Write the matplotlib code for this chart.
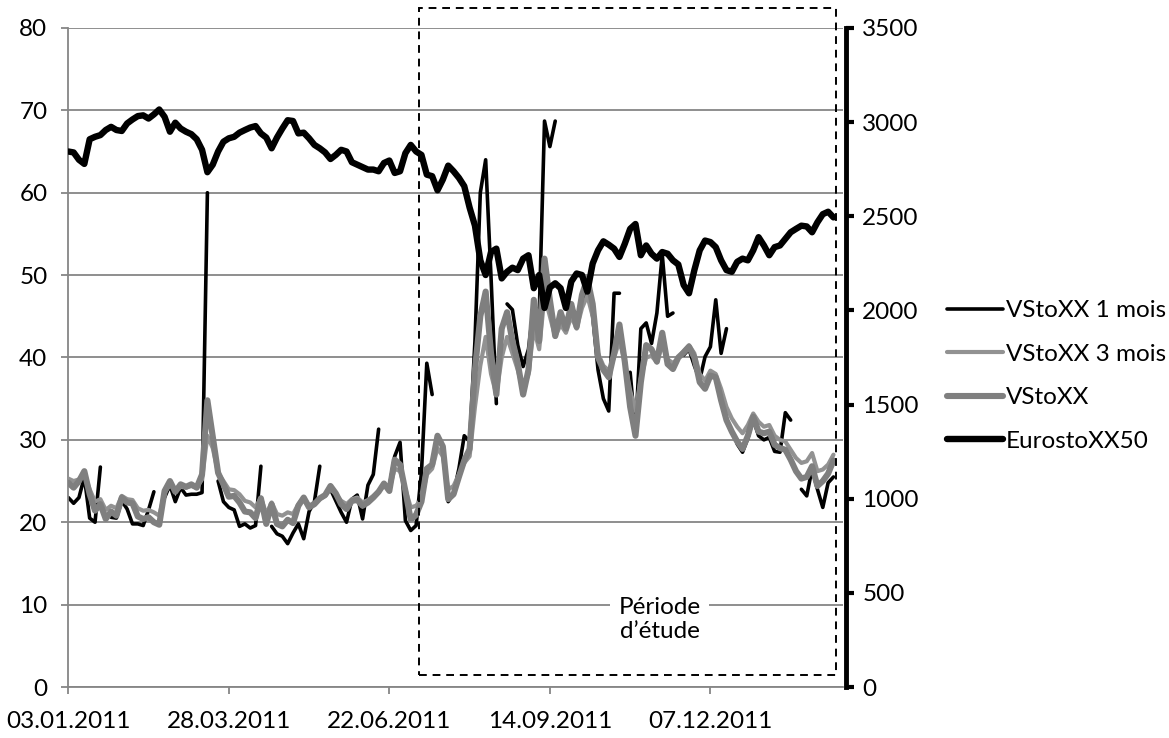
import numpy as np
import matplotlib
matplotlib.use('Agg')
import matplotlib.pyplot as plt
from matplotlib.patches import Rectangle

nan = np.nan

# axe des dates (jours de bourse, un point sur deux)
tick_labels = ['03.01.2011', '28.03.2011', '22.06.2011', '14.09.2011', '07.12.2011']
tick_step = 60          # jours de bourse entre deux étiquettes
n_days = 290            # nombre de jours sur l'axe
sample_step = 2

# EuroStoxx 50 (points, axe de droite)
eurostoxx50 = [
    2844, 2839, 2800, 2778, 2909, 2922, 2931, 2958, 2975, 2958,
    2953, 2993, 3014, 3032, 3036, 3019, 3041, 3067, 3028, 2949,
    2997, 2966, 2949, 2936, 2909, 2853, 2734, 2774, 2844, 2896,
    2914, 2922, 2944, 2958, 2971, 2979, 2940, 2918, 2861, 2918,
    2966, 3010, 3006, 2940, 2944, 2914, 2879, 2861, 2839, 2804,
    2826, 2853, 2844, 2787, 2774, 2761, 2748, 2748, 2739, 2783,
    2796, 2730, 2739, 2835, 2879, 2844, 2826, 2721, 2713, 2638,
    2695, 2769, 2739, 2704, 2660, 2546, 2450, 2266, 2188, 2310,
    2328, 2170, 2205, 2227, 2214, 2275, 2293, 2118, 2188, 2013,
    2122, 2144, 2118, 2013, 2153, 2196, 2188, 2100, 2249, 2319,
    2367, 2349, 2328, 2284, 2354, 2433, 2459, 2293, 2345, 2301,
    2275, 2310, 2301, 2266, 2244, 2135, 2091, 2214, 2319, 2371,
    2363, 2336, 2266, 2214, 2205, 2258, 2275, 2266, 2319, 2389,
    2345, 2293, 2336, 2345, 2380, 2415, 2433, 2450, 2446, 2415,
    2468, 2511, 2524, 2494,
]

# VStoxx (indice)
vstoxx = [
    24.8, 24.2, 25.0, 26.2, 23.4, 21.4, 22.2, 20.4, 21.3, 20.8,
    23.0, 22.4, 22.3, 20.7, 20.4, 20.6, 20.0, 19.7, 23.8, 25.0,
    23.7, 24.6, 24.3, 24.6, 24.2, 25.8, 34.8, 30.4, 26.0, 24.6,
    23.1, 23.2, 22.4, 21.3, 21.2, 20.5, 22.9, 19.8, 22.2, 19.8,
    19.5, 20.3, 19.9, 22.0, 23.0, 21.8, 22.2, 22.9, 23.3, 24.4,
    23.5, 22.2, 21.6, 22.6, 22.7, 22.0, 22.4, 23.0, 23.7, 24.7,
    23.8, 27.6, 27.0, 23.8, 20.3, 20.9, 22.5, 26.5, 27.0, 30.5,
    29.2, 22.8, 23.4, 25.5, 27.5, 28.9, 38.5, 45.0, 48.0, 40.5,
    35.5, 43.5, 45.5, 42.0, 39.3, 35.5, 38.5, 47.0, 42.0, 52.0,
    47.0, 42.6, 45.5, 43.5, 46.5, 43.7, 47.6, 49.6, 46.5, 40.0,
    38.5, 37.6, 40.5, 44.0, 39.5, 34.0, 30.5, 37.0, 41.5, 41.0,
    39.5, 43.0, 39.2, 38.6, 40.0, 40.6, 41.3, 40.0, 37.0, 36.2,
    37.8, 37.6, 34.8, 32.4, 31.0, 29.8, 28.9, 30.5, 32.8, 31.0,
    30.8, 31.0, 29.4, 29.0, 28.8, 27.6, 26.2, 25.3, 25.5, 26.8,
    24.4, 25.0, 25.9, 27.5,
]

# VStoxx future 3 mois
vstoxx_3m = [
    25.3, 25.0, 25.2, 25.8, 24.0, 22.5, 22.8, 21.5, 22.0, 21.7,
    23.2, 22.8, 22.7, 21.7, 21.4, 21.5, 21.2, 20.8, 23.5, 24.6,
    23.8, 24.3, 24.2, 24.4, 24.2, 25.2, 30.5, 29.0, 26.0, 25.0,
    24.0, 23.9, 23.4, 22.6, 22.4, 21.8, 23.0, 21.0, 22.4, 21.0,
    20.8, 21.2, 21.0, 22.2, 23.0, 22.0, 22.4, 22.8, 23.2, 24.0,
    23.4, 22.6, 22.2, 22.8, 23.0, 22.4, 22.7, 23.2, 23.8, 24.4,
    24.0, 26.5, 26.2, 24.0, 21.8, 22.0, 22.8, 25.8, 26.5, 29.0,
    28.0, 24.0, 24.4, 25.8, 27.2, 28.0, 34.0, 39.0, 42.5, 38.0,
    35.5, 40.0, 42.5, 40.5, 38.5, 36.0, 38.0, 43.5, 41.0, 47.5,
    45.0, 42.5, 44.0, 43.0, 45.0, 43.5, 46.0, 47.5, 45.0, 40.5,
    39.0, 38.4, 40.0, 42.0, 39.5, 36.0, 33.5, 37.5, 40.0, 40.2,
    39.4, 41.5, 39.8, 39.3, 40.0, 40.8, 41.5, 40.5, 38.0, 37.2,
    38.4, 38.0, 36.2, 34.0, 32.6, 31.6, 30.8, 31.8, 33.2, 32.2,
    31.6, 31.8, 30.5, 30.0, 29.8, 28.8, 27.8, 27.2, 27.4, 28.4,
    26.2, 26.4, 27.0, 28.2,
]

# VStoxx future 1 mois (trous aux échéances)
vstoxx_1m = [
    23.0, 22.3, 23.0, 25.5, 20.5, 20.0, 26.7, nan, 20.6, 20.5,
    22.6, 21.6, 19.8, 19.8, 19.6, 21.5, 23.7, nan, 23.0, 24.5,
    22.5, 24.2, 23.3, 23.4, 23.4, 23.6, 60.0, nan, 25.0, 22.5,
    21.8, 21.5, 19.5, 19.8, 19.3, 19.6, 26.8, nan, 19.5, 18.6,
    18.3, 17.4, 18.7, 19.8, 18.0, 21.3, 22.5, 26.8, nan, 24.0,
    22.6, 21.2, 20.0, 22.8, 23.3, 20.4, 24.5, 25.8, 31.3, nan,
    24.3, 28.0, 29.7, 20.2, 19.0, 19.6, 26.0, 39.3, 35.5, nan,
    28.5, 22.5, 23.5, 26.5, 30.5, 29.8, 42.0, 60.0, 64.0, 49.8,
    34.4, nan, 46.5, 45.8, 41.5, 38.9, 41.0, 46.5, 45.0, 68.7,
    65.6, 68.7, nan, 43.5, 46.2, 45.0, 46.5, 48.5, 45.0, 38.5,
    35.0, 33.5, 47.8, 47.8, nan, 38.2, 31.0, 43.5, 44.2, 41.7,
    45.4, 52.5, 45.0, 45.4, nan, 40.3, 41.0, 39.0, 37.3, 40.1,
    41.3, 47.0, 40.5, 43.5, nan, 29.5, 28.5, 30.2, 32.5, 30.5,
    30.0, 30.3, 28.6, 28.5, 33.3, 32.4, nan, 24.0, 23.2, 26.5,
    24.0, 21.8, 24.8, 25.5,
]

# période d'étude (jours de bourse)
study_start = 131
study_end = 287

plt.rcParams['font.family'] = ['Lato', 'DejaVu Sans']
grid_gray = '#868686'
fs = 17.5

x = np.arange(len(vstoxx)) * sample_step

fig = plt.figure(figsize=(11.69, 7.38), dpi=100)
ax = fig.add_axes([0.0584, 0.0691, 0.6626, 0.893])
ax2 = ax.twinx()

style = dict(solid_joinstyle='round', solid_capstyle='round')
l1, = ax.plot(x, vstoxx_1m, color='black', lw=2.6, label='VStoXX 1 mois', zorder=2, **style)
l2, = ax.plot(x, vstoxx_3m, color='#929292', lw=3.0, label='VStoXX 3 mois', zorder=3, **style)
l3, = ax.plot(x, vstoxx, color='#7f7f7f', lw=4.4, label='VStoXX', zorder=4, **style)
l4, = ax2.plot(x, eurostoxx50, color='black', lw=4.6, label='EurostoXX50', zorder=5, **style)

# axe de gauche
ax.set_ylim(0, 80)
ax.set_yticks(np.arange(0, 81, 10))
ax.set_xlim(0, n_days - 0.5)
ax.set_xticks(np.arange(len(tick_labels)) * tick_step)
ax.set_xticklabels(tick_labels)
ax.yaxis.grid(True, color=grid_gray, lw=1.3)
ax.set_axisbelow(True)
for s in ['top', 'right']:
    ax.spines[s].set_visible(False)
for s in ['left', 'bottom']:
    ax.spines[s].set_color(grid_gray)
    ax.spines[s].set_linewidth(1.3)
ax.tick_params(axis='both', colors=grid_gray, labelcolor='black', labelsize=fs,
               length=5, width=1.3)
ax.tick_params(axis='x', pad=12)
ax.tick_params(axis='y', pad=10)

# axe de droite
ax2.set_ylim(0, 3500)
ax2.set_yticks(np.arange(0, 3501, 500))
for s in ['top', 'left', 'bottom']:
    ax2.spines[s].set_visible(False)
ax2.spines['right'].set_linewidth(3.5)
ax2.spines['right'].set_position(('outward', 2))
ax2.tick_params(axis='y', labelsize=fs, length=6, width=3, pad=6)

# cadre de la période d'étude
rect = Rectangle((study_start, 1.5), study_end - study_start, 80.9,
                 fill=False, ls=(0, (4, 3)), lw=1.4, edgecolor='black',
                 clip_on=False, zorder=6)
ax.add_patch(rect)
ax2.text((study_start + study_end) / 2 + 12, 8.2 * 3500 / 80, 'Période\nd’étude',
         ha='center', va='center', fontsize=fs, linespacing=1.15,
         bbox=dict(facecolor='white', edgecolor='none', pad=6), zorder=7)

fig.legend(handles=[l1, l2, l3, l4], loc='center left',
           bbox_to_anchor=(0.802, 1 - 376 / 738), frameon=False,
           fontsize=fs, handlelength=2.3, handletextpad=0.1,
           labelspacing=0.92, borderaxespad=0)

fig.savefig('out.png', dpi=100)
